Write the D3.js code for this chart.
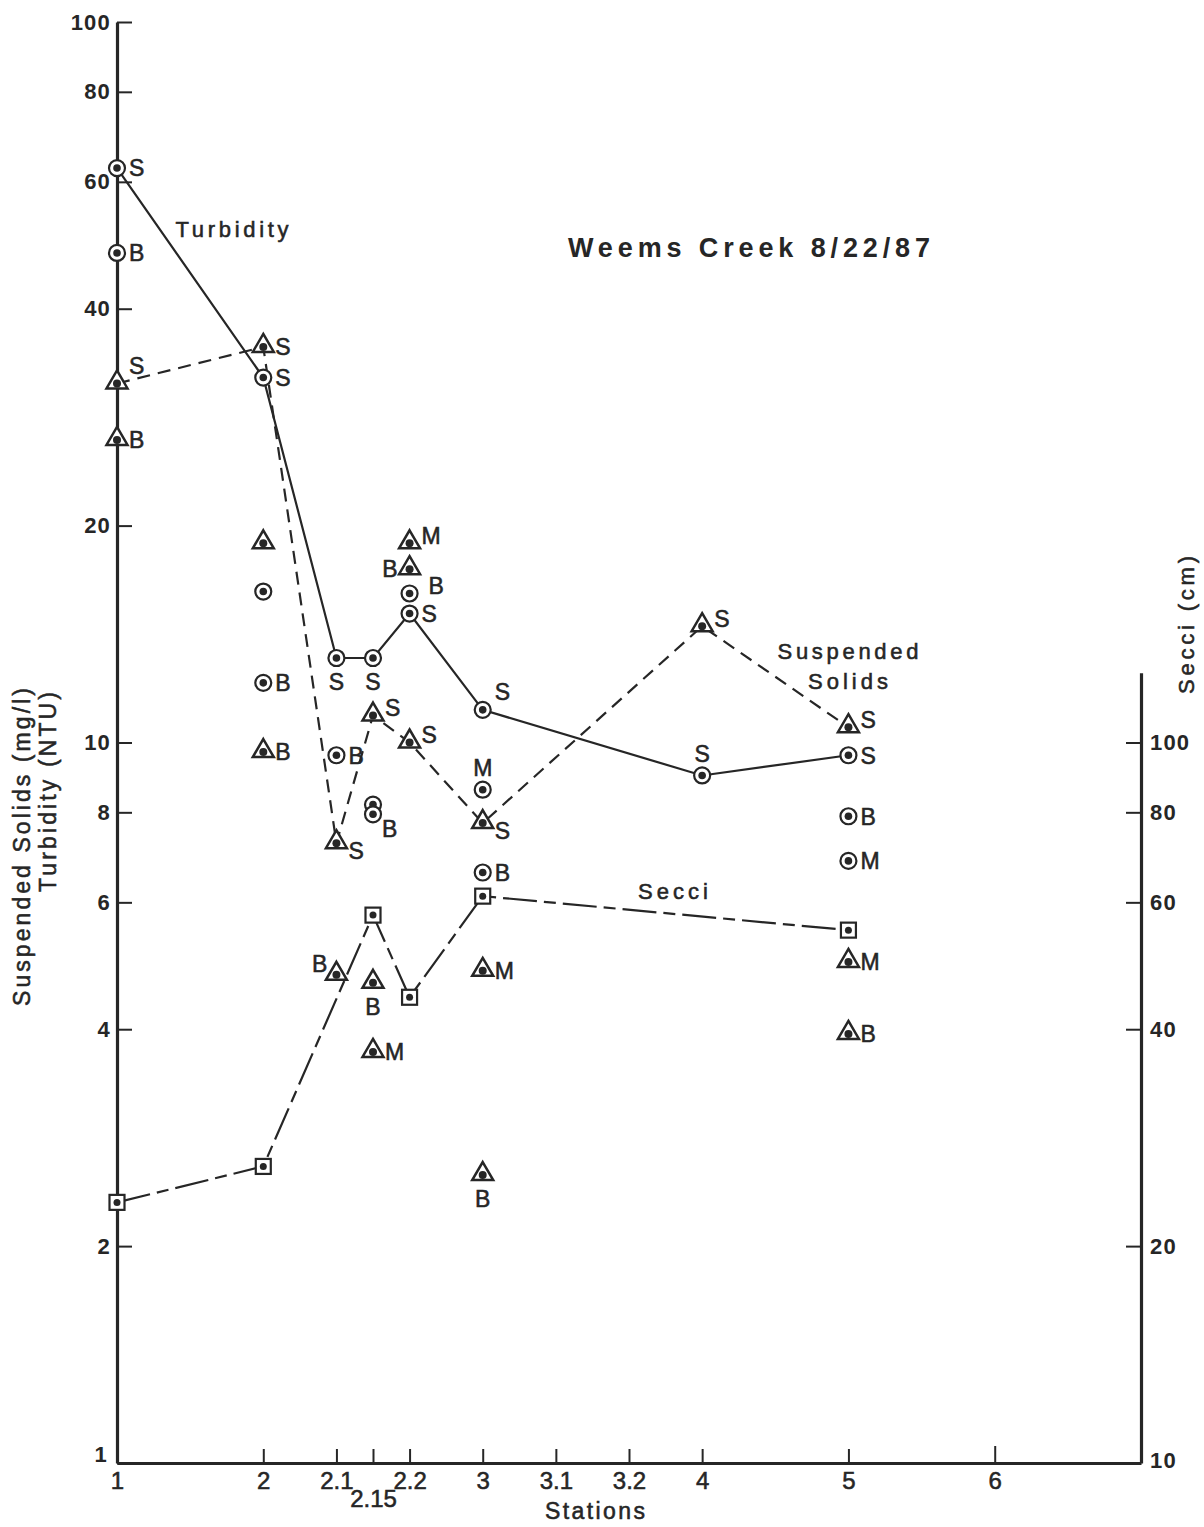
<!DOCTYPE html>
<html><head><meta charset="utf-8">
<script src="https://cdn.jsdelivr.net/npm/d3@7"></script>
<style>
body{margin:0;background:#fff}
text{font-family:"Liberation Sans",Arial,sans-serif;fill:#262626}
.heavy{stroke:#262626;stroke-width:0.55px}
</style>
</head><body><svg id="c" width="1204" height="1527"></svg>
<script>
// ---------------- DATA ----------------
const stationLabels = ["1","2","2.1","2.15","2.2","3","3.1","3.2","4","5","6"];
const stationValues = [1,2,2.1,2.15,2.2,3,3.1,3.2,4,5,6];
const leftTicks = [1,2,4,6,8,10,20,40,60,80,100];
const rightTicks = [10,20,40,60,80,100];

// Turbidity (NTU), surface samples joined by solid line
const turbLineStations = [1,2,2.1,2.15,2.2,3,4,5];
const turbLineValues   = [62.7,32.1,13.1,13.1,15.1,11.1,9.0,9.6];
const turbLineDepth    = ["S","S","S","S","S","S","S","S"];
// Turbidity, other depths
const turbOtherStations = [1,2,2,2.1,2.15,2.15,2.2,3,3,5,5];
const turbOtherValues   = [47.8,16.2,12.1,9.6,8.2,7.95,16.1,8.6,6.6,7.9,6.85];
const turbOtherDepth    = ["B","","B","B","","B","B","M","B","B","M"];

// Suspended solids (mg/l), surface samples joined by dashed line
const ssLineStations = [1,2,2.1,2.15,2.2,3,4,5];
const ssLineValues   = [31.5,35.4,7.25,10.9,10.0,7.73,14.5,10.5];
const ssLineDepth    = ["S","S","S","S","S","S","S","S"];
// Suspended solids, other depths
const ssOtherStations = [1,2,2,2.1,2.15,2.15,2.2,2.2,3,3,5,5];
const ssOtherValues   = [26.3,18.9,9.7,4.76,4.64,3.72,18.9,17.4,4.82,2.51,4.96,3.94];
const ssOtherDepth    = ["B","","B","B","B","M","M","B","M","B","M","B"];

// Secchi depth (cm), right axis
const secciStations = [1,2,2.15,2.2,3,5];
const secciValues   = [23.0,25.8,57.6,44.3,61.2,54.9];

// ---------------- LAYOUT (label placement codes) ----------------
const turbLinePlace  = ["r","r","b","b","r","tr","t","r"];
const turbOtherPlace = ["r","","r","r","","br","rr","t","r","r","r"];
const ssLinePlace    = ["tr","r","rb","rt","rt","rb","rt","rt"];
const ssOtherPlace   = ["r","","r","lt","b","r","rt","l","r","b","r","r"];

const ink = "#262626";
const svg = d3.select("#c");

const x0 = 117, x1 = 1141, yBot = 1463, yTop = 22;
const slotDomain = [1,2,2.1,2.2,3,3.1,3.2,4,5,6,7];
const slotIndex  = [0,2,3,4,5,6,7,8,10,12,14];
const unit = (x1 - x0) / 14;
const x = d3.scaleLinear().domain(slotDomain).range(slotIndex.map(i => x0 + i*unit));
const y = d3.scaleLog().domain([1,100]).range([yBot, yTop]);
const secciTop = 125;
const ySec = d3.scaleLog().domain([10, secciTop]).range([yBot, y(secciTop/10)]);

// ---------- axes ----------
const axL = svg.append("g").attr("transform", `translate(${x0},0)`)
  .call(d3.axisLeft(y).tickValues(leftTicks).tickFormat(d3.format("d")).tickSizeInner(-15).tickSizeOuter(0).tickPadding(6));
const axR = svg.append("g").attr("transform", `translate(${x1},0)`)
  .call(d3.axisRight(ySec).tickValues(rightTicks).tickFormat(d3.format("d")).tickSizeInner(-15).tickSizeOuter(0).tickPadding(9));
const axB = svg.append("g").attr("transform", `translate(0,${yBot})`)
  .call(d3.axisBottom(x).tickValues(stationValues).tickFormat((d,i)=>stationLabels[i]).tickSizeInner(-14).tickSizeOuter(0).tickPadding(9));

[axL, axR, axB].forEach(a => {
  a.select(".domain").attr("stroke", ink).attr("stroke-width", 3.2);
  a.selectAll(".tick line").attr("stroke", ink).attr("stroke-width", 2);
  a.selectAll(".tick text").attr("fill", ink).style("font-family", '"Liberation Sans",Arial,sans-serif');
});
axL.selectAll(".tick text").style("font-size","22px").style("font-weight","bold").attr("letter-spacing","1.2");
axR.selectAll(".tick text").style("font-size","22px").style("font-weight","bold").attr("letter-spacing","1.2");
axR.selectAll(".tick").filter(d => d === 10).select("line").remove();
axL.selectAll(".tick").filter(d => d === 1).select("text").attr("dy","-0.05em").attr("x",-9);
axR.selectAll(".tick").filter(d => d === 10).select("text").attr("dy","0.2em");
axB.selectAll(".tick").filter(d => d === 1).select("line").remove();
axB.selectAll(".tick text").style("font-size","24px").attr("class","heavy")
  .style("font-family",'"Liberation Sans Narrow","Liberation Sans",Arial,sans-serif');
axB.selectAll(".tick").filter(d => d === 2.15).select("text").attr("dy","1.45em");
axB.selectAll(".tick").filter(d => d === 6).select("line").attr("y2",-17);

// ---------- lines ----------
const line = (xs, ys, sc) => d3.line().x((d,i)=>x(xs[i])).y((d,i)=>sc(ys[i]))(ys);

svg.append("path").attr("d", line(turbLineStations, turbLineValues, y))
  .attr("fill","none").attr("stroke",ink).attr("stroke-width",2.2);
svg.append("path").attr("d", line(ssLineStations, ssLineValues, y))
  .attr("fill","none").attr("stroke",ink).attr("stroke-width",2.2).attr("stroke-dasharray","13,8");
svg.append("path").attr("d", line(secciStations, secciValues, ySec))
  .attr("fill","none").attr("stroke",ink).attr("stroke-width",2.2).attr("stroke-dasharray","34,7,12,7");

// ---------- markers ----------
function circle(px, py){
  svg.append("circle").attr("cx",px).attr("cy",py).attr("r",8).attr("fill","#fff").attr("stroke",ink).attr("stroke-width",2.2);
  svg.append("circle").attr("cx",px).attr("cy",py).attr("r",3.8).attr("fill",ink);
}
function tri(px, py){
  svg.append("path").attr("d",`M${px},${py-13}L${px+10.5},${py+5}L${px-10.5},${py+5}Z`)
    .attr("fill","#fff").attr("stroke",ink).attr("stroke-width",2.5).attr("stroke-linejoin","miter");
  svg.append("circle").attr("cx",px).attr("cy",py).attr("r",4).attr("fill",ink);
}
function square(px, py){
  svg.append("rect").attr("x",px-7.5).attr("y",py-7.5).attr("width",15).attr("height",15)
    .attr("fill","#fff").attr("stroke",ink).attr("stroke-width",2.2);
  svg.append("circle").attr("cx",px).attr("cy",py).attr("r",3.5).attr("fill",ink);
}
const offs = {
  r:[12,0,"start"], l:[-12,0,"end"], b:[0,24,"middle"], t:[0,-22,"middle"],
  tr:[12,-18,"start"], br:[9,14,"start"], rr:[19,-8,"start"], rt:[12,-8,"start"],
  rb:[12,8,"start"], lt:[-9,-11,"end"]
};
function label(px, py, txt, code){
  if(!txt || !code) return;
  const o = offs[code];
  svg.append("text").attr("x",px+o[0]).attr("y",py+o[1]).attr("dy","0.36em").attr("class","heavy")
    .attr("text-anchor",o[2]).style("font-size","23px").text(txt);
}

secciStations.forEach((s,i)=> square(x(s), ySec(secciValues[i])));
ssLineStations.forEach((s,i)=>{ tri(x(s), y(ssLineValues[i])); label(x(s), y(ssLineValues[i]), ssLineDepth[i], ssLinePlace[i]); });
ssOtherStations.forEach((s,i)=>{ tri(x(s), y(ssOtherValues[i])); label(x(s), y(ssOtherValues[i]), ssOtherDepth[i], ssOtherPlace[i]); });
turbLineStations.forEach((s,i)=>{ circle(x(s), y(turbLineValues[i])); label(x(s), y(turbLineValues[i]), turbLineDepth[i], turbLinePlace[i]); });
turbOtherStations.forEach((s,i)=>{ circle(x(s), y(turbOtherValues[i])); label(x(s), y(turbOtherValues[i]), turbOtherDepth[i], turbOtherPlace[i]); });

// ---------- text ----------
function txt(tx, ty, s, size, len, weight){
  const t = svg.append("text").attr("x",tx).attr("y",ty).attr("text-anchor","middle").attr("dy","0.35em")
    .style("font-size",size+"px").style("font-weight",weight||"normal").text(s);
  if(!weight) t.attr("class","heavy");
  if(len) t.attr("textLength",len).attr("lengthAdjust","spacing");
  return t;
}
txt(749, 248, "Weems Creek 8/22/87", 27, 362, "bold");
txt(232, 229, "Turbidity", 22, 113);
txt(848, 651, "Suspended", 22, 141);
txt(848, 681, "Solids", 22, 80);
txt(673, 891, "Secci", 22, 70);
txt(595, 1511, "Stations", 23, 100).style("font-family",'"Liberation Sans Narrow","Liberation Sans",Arial,sans-serif');

svg.append("text").attr("class","heavy").attr("transform","translate(22,847) rotate(-90)").attr("text-anchor","middle").attr("dy","0.35em")
  .style("font-size","23px").attr("textLength",318).attr("lengthAdjust","spacing").text("Suspended Solids (mg/l)");
svg.append("text").attr("class","heavy").attr("transform","translate(48,792) rotate(-90)").attr("text-anchor","middle").attr("dy","0.35em")
  .style("font-size","23px").attr("textLength",200).attr("lengthAdjust","spacing").text("Turbidity (NTU)");
svg.append("text").attr("class","heavy").attr("transform","translate(1186,625) rotate(-90)").attr("text-anchor","middle").attr("dy","0.35em")
  .style("font-size","22px").attr("textLength",138).attr("lengthAdjust","spacing").text("Secci (cm)");
</script>
</body></html>
